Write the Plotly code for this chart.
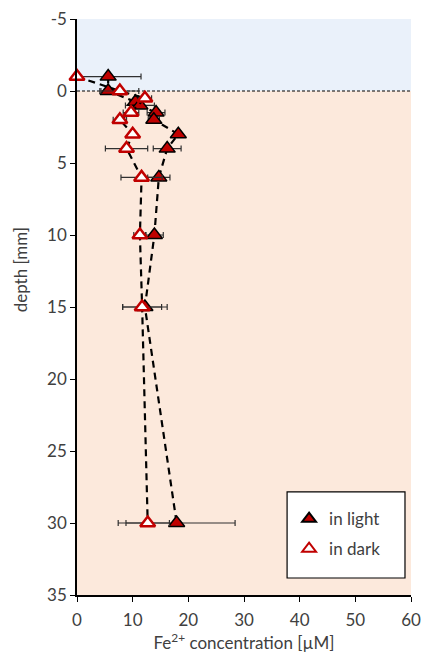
import plotly.graph_objects as go

# Fe2+ depth profiles (µM) with horizontal error bars
light_depth = [-1, 0, 0.75, 1, 1.5, 2, 3, 4, 6, 10, 15, 30]
light_fe = [5.6, 5.6, 10.5, 11.3, 14.2, 13.8, 18.2, 16.2, 14.7, 13.9, 12.2, 17.9]
light_err = [5.9, 1.5, 1.0, 2.6, 1.6, 1.0, 0.3, 2.5, 2.0, 1.6, 4.0, 10.5]

dark_depth = [-1, 0, 0.5, 1.5, 2, 3, 4, 6, 10, 15, 30]
dark_fe = [0, 7.7, 12.2, 9.7, 7.7, 10.0, 8.9, 11.6, 11.3, 11.7, 12.7]
dark_err = [0, 3.4, 1.2, 1.4, 1.2, 0.3, 3.8, 3.7, 1.1, 3.5, 3.9]

depth_ticks = [-5, 0, 5, 10, 15, 20, 25, 30, 35]
depth_tick_labels = ["-5", "0", "5", "10", "15", "20", "25", "30", "35"]

x_range = [0, 60]
y_range = [35, -5]
font = "Lato, 'Open Sans', sans-serif"
txt = "#404040"

fig = go.Figure()

# water column (blue) and sediment (peach) bands
fig.add_shape(type="rect", xref="x", yref="y", x0=0, x1=60, y0=-5, y1=0,
              fillcolor="#EAF1FA", line_width=0, layer="below")
fig.add_shape(type="rect", xref="x", yref="y", x0=0, x1=60, y0=0, y1=35,
              fillcolor="#FCE9DC", line_width=0, layer="below")
fig.add_shape(type="line", xref="x", yref="y", x0=0, x1=60, y0=0, y1=0,
              line=dict(color="black", width=1, dash="3px,2px"), layer="below")
# legend frame
fig.add_shape(type="rect", xref="paper", yref="paper",
              x0=0.629, x1=0.982, y0=0.0295, y1=0.179,
              fillcolor="white", line=dict(color="black", width=1.2),
              layer="above")

def err(vals):
    return dict(type="data", array=vals, visible=True, color="#303030",
                thickness=1.2, width=3)

fig.add_trace(go.Scatter(
    x=light_fe, y=light_depth, mode="lines+markers", showlegend=False,
    cliponaxis=False, error_x=err(light_err),
    line=dict(color="black", width=2.2, dash="7px,5px"),
    marker=dict(symbol="triangle-up", size=14, color="#C00000",
                line=dict(color="black", width=1.5)),
))
fig.add_trace(go.Scatter(
    x=dark_fe, y=dark_depth, mode="lines+markers", showlegend=False,
    cliponaxis=False, error_x=err(dark_err),
    line=dict(color="black", width=2.2, dash="7px,5px"),
    marker=dict(symbol="triangle-up", size=13, color="white",
                line=dict(color="#C00000", width=2.5)),
))

# legend entries show the markers only
fig.add_trace(go.Scatter(
    x=[None], y=[None], mode="markers", name="in light", legendgroup="light",
    marker=dict(symbol="triangle-up", size=13, color="#C00000",
                line=dict(color="black", width=1.5)),
))
fig.add_trace(go.Scatter(
    x=[None], y=[None], mode="markers", name="in dark", legendgroup="dark",
    marker=dict(symbol="triangle-up", size=12, color="white",
                line=dict(color="#C00000", width=2.0)),
))

fig.add_annotation(text="depth [mm]", xref="paper", yref="paper",
                   x=-0.17, y=0.564, textangle=-90, showarrow=False,
                   xanchor="center", yanchor="middle",
                   font=dict(size=17, color=txt))

fig.update_layout(
    width=425, height=657,
    margin=dict(l=77, r=14, t=19, b=62),
    paper_bgcolor="white", plot_bgcolor="white",
    font=dict(family=font, size=17, color=txt),
    legend=dict(x=0.635, y=0.163, xanchor="left", yanchor="top",
                bgcolor="rgba(0,0,0,0)", borderwidth=0,
                font=dict(size=17, color=txt), tracegroupgap=5,
                itemsizing="constant", itemwidth=30),
    xaxis=dict(range=x_range, dtick=10, showgrid=False, zeroline=False,
               automargin=False,
               showline=True, linecolor="black", linewidth=1.5,
               ticks="outside", ticklen=5, tickcolor="black",
               tickfont=dict(size=17), ticklabelstandoff=4,
               title=dict(text="Fe<sup>2+</sup> concentration [µM]",
                          font=dict(size=17, color=txt), standoff=7)),
    yaxis=dict(range=y_range, tickmode="array", tickvals=depth_ticks,
               ticktext=depth_tick_labels,
               showgrid=False, zeroline=False, automargin=False,
               showline=True, linecolor="black", linewidth=1.5,
               ticks="outside", ticklen=5, tickcolor="black",
               tickfont=dict(size=17)),
)

fig.write_html("out.html")
